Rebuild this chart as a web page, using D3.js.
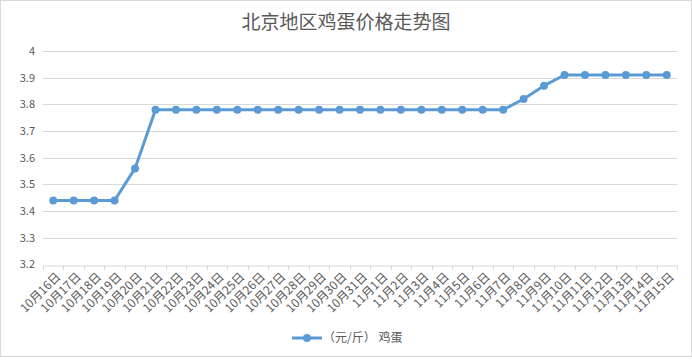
<!DOCTYPE html>
<html>
<head>
<meta charset="utf-8">
<script src="https://cdn.jsdelivr.net/npm/d3@7"></script>
<style>
  body { margin: 0; background: #fff; }
  text { font-family: "Noto Sans CJK SC", "Microsoft YaHei", sans-serif; fill: #595959; }
</style>
</head>
<body>
<script>
const width = 692;
const height = 360;

// categories: 10月16日 .. 11月15日
const days = [
  "10月16日", "10月17日", "10月18日", "10月19日", "10月20日", "10月21日", "10月22日", "10月23日",
  "10月24日", "10月25日", "10月26日", "10月27日", "10月28日", "10月29日", "10月30日", "10月31日",
  "11月1日", "11月2日", "11月3日", "11月4日", "11月5日", "11月6日", "11月7日", "11月8日",
  "11月9日", "11月10日", "11月11日", "11月12日", "11月13日", "11月14日", "11月15日"
];

// 鸡蛋价格 (元/斤)
const prices = [
  3.44, 3.44, 3.44, 3.44, 3.56, 3.78, 3.78, 3.78,
  3.78, 3.78, 3.78, 3.78, 3.78, 3.78, 3.78, 3.78,
  3.78, 3.78, 3.78, 3.78, 3.78, 3.78, 3.78, 3.82,
  3.87, 3.91, 3.91, 3.91, 3.91, 3.91, 3.91
];

const yTicks = [3.2, 3.3, 3.4, 3.5, 3.6, 3.7, 3.8, 3.9, 4];

const title = "北京地区鸡蛋价格走势图";
const seriesName = "（元/斤） 鸡蛋";

const color = "#5b9bd5";
const gridColor = "#d9d9d9";

const svg = d3.select("body").append("svg").attr("width", width).attr("height", height);

// chart border
svg.append("rect")
  .attr("x", 0.5).attr("y", 0.5)
  .attr("width", width - 1).attr("height", 356)
  .attr("fill", "#fff")
  .attr("stroke", gridColor);

const x = d3.scaleBand().domain(days).range([43, 677]);
const y = d3.scaleLinear().domain([3.2, 4]).range([264.5, 51]);

// gridlines
svg.append("g")
  .selectAll("line")
  .data(yTicks.slice(1))
  .join("line")
  .attr("x1", 43).attr("x2", 677)
  .attr("y1", (d) => Math.round(y(d)) + 0.5)
  .attr("y2", (d) => Math.round(y(d)) + 0.5)
  .attr("stroke", gridColor);

// y labels
svg.append("g")
  .selectAll("text")
  .data(yTicks)
  .join("text")
  .attr("x", 35)
  .attr("y", (d) => y(d))
  .attr("dy", "0.35em")
  .attr("text-anchor", "end")
  .attr("font-size", 11)
  .text((d) => d);

// x axis
const xAxis = svg.append("g")
  .attr("transform", `translate(0,${Math.round(y(3.2)) + 0.5})`)
  .call(d3.axisBottom(x).tickSize(0).tickFormat(""));
xAxis.select(".domain").attr("stroke", gridColor);

svg.append("g")
  .selectAll("line")
  .data(days.concat(["end"]))
  .join("line")
  .attr("x1", (d, i) => Math.round(x.range()[0] + i * x.bandwidth()) + 0.5)
  .attr("x2", (d, i) => Math.round(x.range()[0] + i * x.bandwidth()) + 0.5)
  .attr("y1", Math.round(y(3.2)) + 0.5)
  .attr("y2", Math.round(y(3.2)) + 5)
  .attr("stroke", gridColor);

svg.append("g")
  .selectAll("text")
  .data(days)
  .join("text")
  .attr("transform", (d) => `translate(${x(d) + x.bandwidth() / 2 + 5},${y(3.2) + 10}) rotate(-45)`)
  .attr("text-anchor", "end")
  .attr("dy", "0.35em")
  .attr("font-size", 12)
  .text((d) => d);

// line
const line = d3.line()
  .x((d, i) => x(days[i]) + x.bandwidth() / 2)
  .y((d) => y(d));

svg.append("path")
  .datum(prices)
  .attr("d", line)
  .attr("fill", "none")
  .attr("stroke", color)
  .attr("stroke-width", 3)
  .attr("stroke-linejoin", "round");

svg.append("g")
  .selectAll("circle")
  .data(prices)
  .join("circle")
  .attr("cx", (d, i) => x(days[i]) + x.bandwidth() / 2)
  .attr("cy", (d) => y(d))
  .attr("r", 4)
  .attr("fill", color);

// title
svg.append("text")
  .attr("x", 346)
  .attr("y", 29)
  .attr("text-anchor", "middle")
  .attr("font-size", 19)
  .text(title);

// legend
const legend = svg.append("g").attr("transform", "translate(292,338)");
legend.append("line")
  .attr("x1", 0).attr("x2", 30)
  .attr("stroke", color).attr("stroke-width", 3);
legend.append("circle").attr("cx", 15).attr("r", 4).attr("fill", color);
legend.append("text")
  .attr("x", 31)
  .attr("dy", "0.35em")
  .attr("font-size", 12)
  .text(seriesName);
</script>
</body>
</html>
